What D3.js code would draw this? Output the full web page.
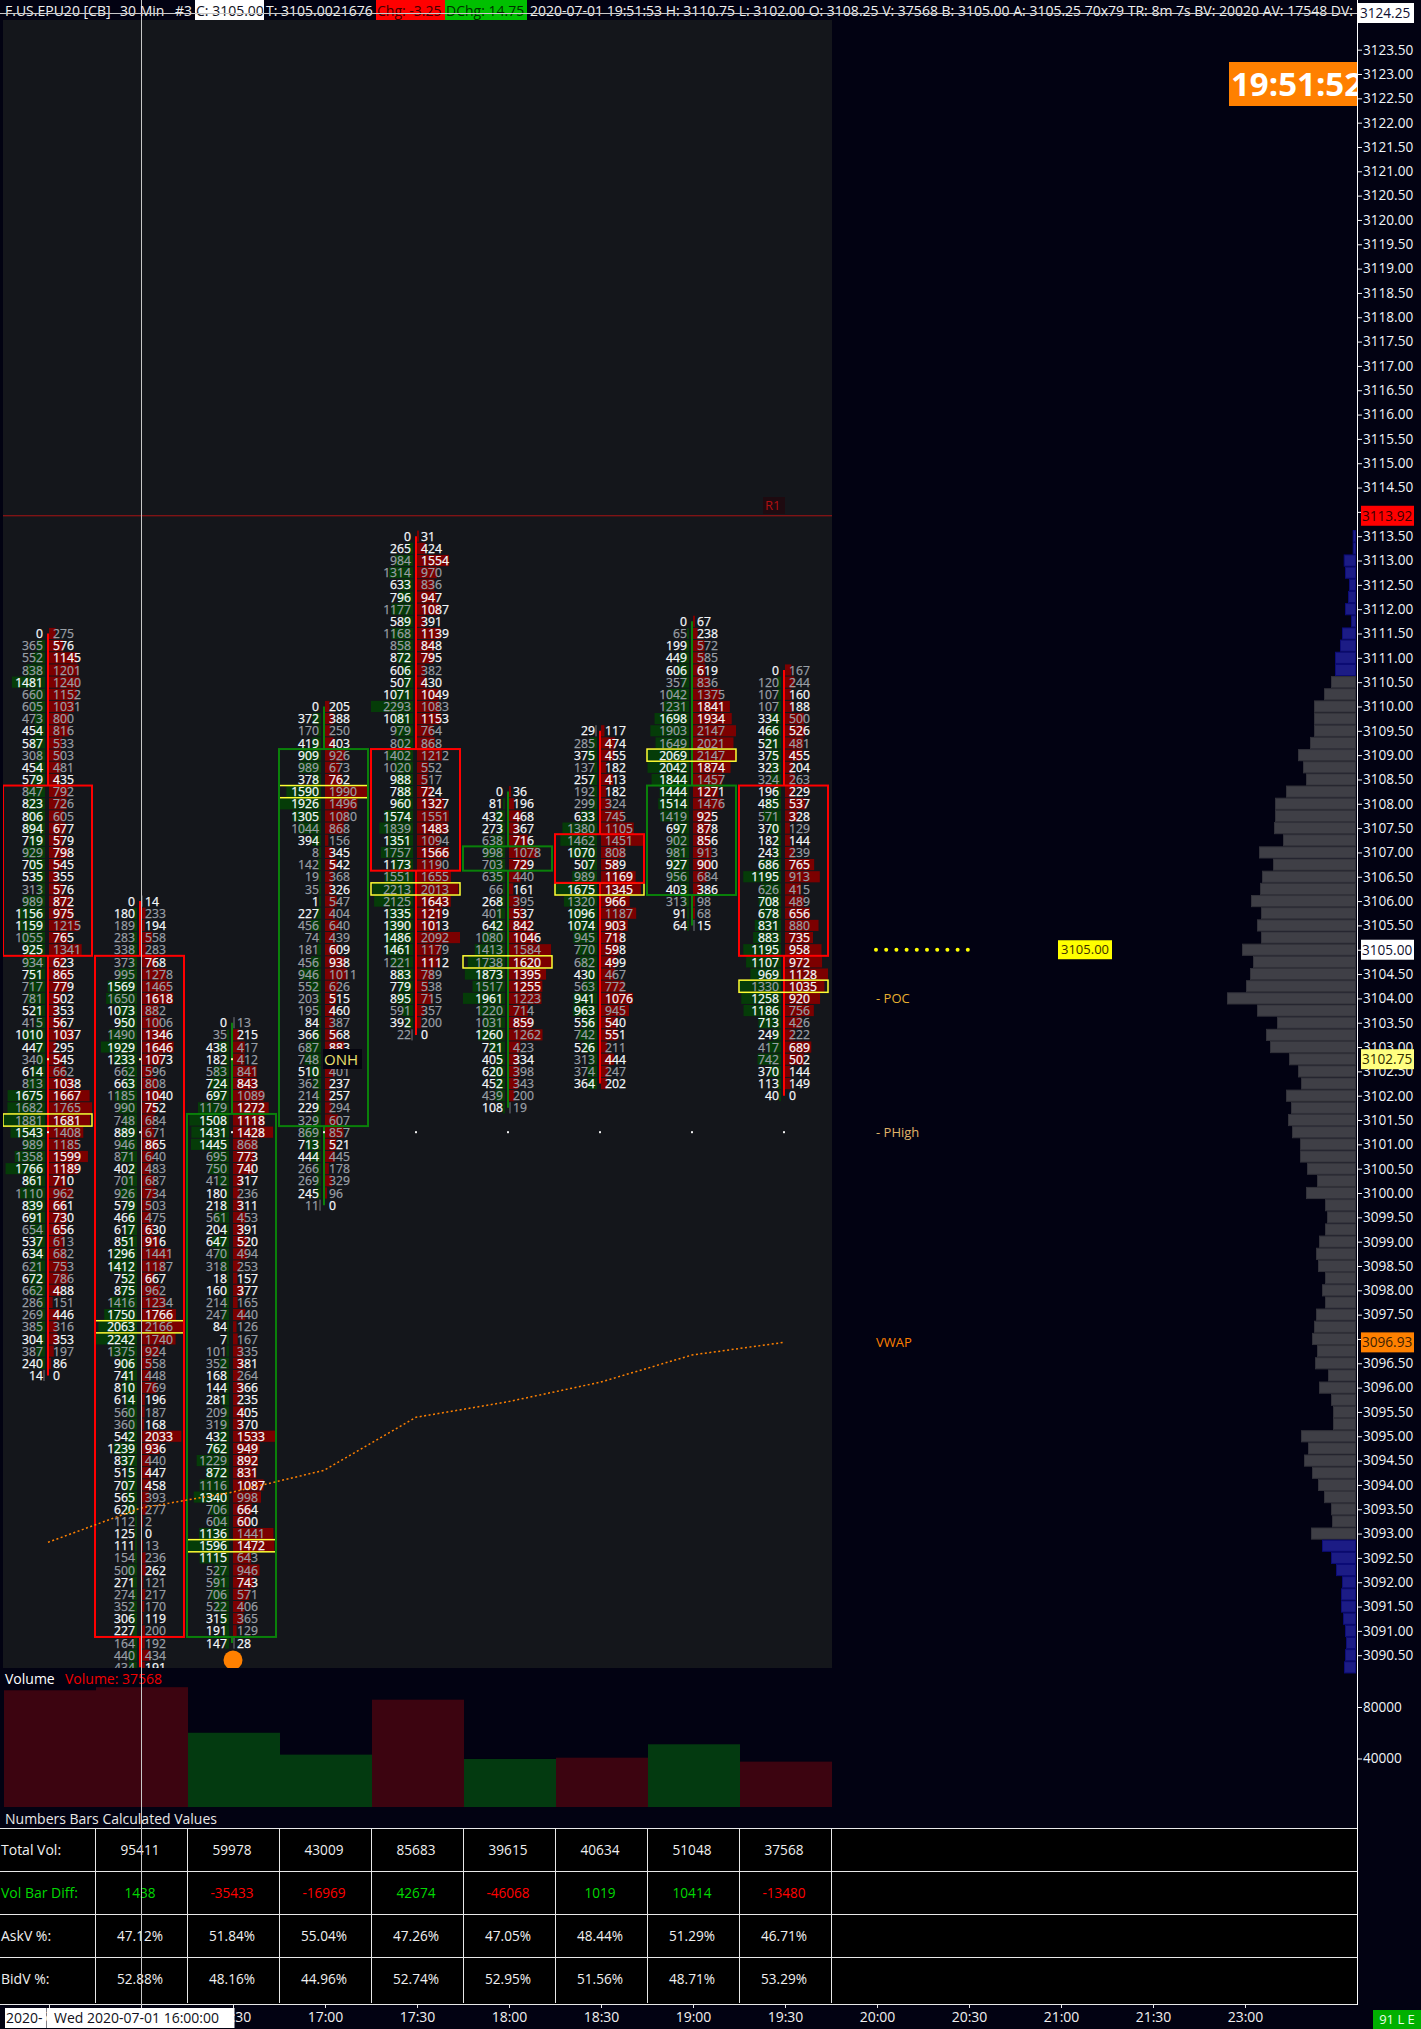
<!DOCTYPE html>
<html>
<head>
<meta charset="utf-8">
<script src="https://cdn.jsdelivr.net/npm/d3@7"></script>
<style>
  html, body { margin: 0; padding: 0; background: #020212; }
  svg { display: block; }
  text { font-family: "Open Sans", sans-serif; }
</style>
</head>
<body>
<div id="chart"></div>
<script>
// bar times (15:30 bar sits under the date box on the axis)
var barTimes = ["15:30", "16:00", "16:30", "17:00", "17:30", "18:00", "18:30", "19:00", "19:30"];
var axisTimes = barTimes.concat(["20:00", "20:30", "21:00", "21:30", "23:00"]);

// candle values, one per bar
var barHigh = [3111.5, 3106, 3103.5, 3110, 3113.5, 3108.25, 3109.5, 3111.75, 3110.75];
var bodyTop = [3108.25, 3104.75, 3101.5, 3109, 3109, 3107, 3107.25, 3108.25, 3108.25];
var bodyBottom = [3105, 3091, 3091, 3101.5, 3106.75, 3106.75, 3106.5, 3106.25, 3105];
var barIsUp = [false, false, true, true, false, true, false, true, false];

// footprint cells, top row to bottom row
var bid0 = [0,365,552,838,1481,660,605,473,454,587,308,454,579,847,823,806,894,719,929,705,535,313,989,1156,1159,1055,925,934,751,717,781,521,415,1010,447,340,614,813,1675,1682,1881,1543,989,1358,1766,861,1110,839,691,654,537,634,621,672,662,286,269,385,304,387,240,14];
var ask0 = [275,576,1145,1201,1240,1152,1031,800,816,533,503,481,435,792,726,605,677,579,798,545,355,576,872,975,1215,765,1341,623,865,779,502,353,567,1037,295,545,662,1038,1667,1765,1681,1408,1185,1599,1189,710,962,661,730,656,613,682,753,786,488,151,446,316,353,197,86,0];
var bid1 = [0,180,189,283,338,373,995,1569,1650,1073,950,1490,1929,1233,662,663,1185,990,748,889,946,871,402,701,926,579,466,617,851,1296,1412,752,875,1416,1750,2063,2242,1375,906,741,810,614,560,360,542,1239,837,515,707,565,620,112,125,111,154,500,271,274,352,306,227,164,440,434];
var ask1 = [14,233,194,558,283,768,1278,1465,1618,882,1006,1346,1646,1073,596,808,1040,752,684,671,865,640,483,687,734,503,475,630,916,1441,1187,667,962,1234,1766,2166,1740,924,558,448,769,196,187,168,2033,936,440,447,458,393,277,2,0,13,236,262,121,217,170,119,200,192,434,191];
var bid2 = [0,35,438,182,583,724,697,1179,1508,1431,1445,695,750,412,180,218,561,204,647,470,318,18,160,214,247,84,7,101,352,168,144,281,209,319,432,762,1229,872,1116,1340,706,604,1136,1596,1115,527,591,706,522,315,191,147];
var ask2 = [13,215,417,412,841,843,1089,1272,1118,1428,868,773,740,317,236,311,453,391,520,494,253,157,377,165,440,126,167,335,381,264,366,235,405,370,1533,949,892,831,1087,998,664,600,1441,1472,643,946,743,571,406,365,129,28];
var bid3 = [0,372,170,419,909,989,378,1590,1926,1305,1044,394,8,142,19,35,1,227,456,74,181,456,946,552,203,195,84,366,687,748,510,362,214,229,329,869,713,444,266,269,245,11];
var ask3 = [205,388,250,403,926,673,762,1990,1496,1080,868,156,345,542,368,326,547,404,640,439,609,938,1011,626,515,460,387,568,883,520,401,237,257,294,607,857,521,445,178,329,96,0];
var bid4 = [0,265,984,1314,633,796,1177,589,1168,858,872,606,507,1071,2293,1081,979,802,1402,1020,988,788,960,1574,1839,1351,1757,1173,1551,2213,2125,1335,1390,1486,1461,1221,883,779,895,591,392,22];
var ask4 = [31,424,1554,970,836,947,1087,391,1139,848,795,382,430,1049,1083,1153,764,868,1212,552,517,724,1327,1551,1483,1094,1566,1190,1655,2013,1643,1219,1013,2092,1179,1112,789,538,715,357,200,0];
var bid5 = [0,81,432,273,638,998,703,635,66,268,401,642,1080,1413,1738,1873,1517,1961,1220,1031,1260,721,405,620,452,439,108];
var ask5 = [36,196,468,367,716,1078,729,440,161,395,537,842,1046,1584,1620,1395,1255,1223,714,859,1262,423,334,398,343,200,19];
var bid6 = [29,285,375,137,257,192,299,633,1380,1462,1070,507,989,1675,1320,1096,1074,945,770,682,430,563,941,963,556,742,526,313,374,364];
var ask6 = [117,474,455,182,413,182,324,745,1105,1451,808,589,1169,1345,966,1187,903,718,598,499,467,772,1076,945,540,551,211,444,247,202];
var bid7 = [0,65,199,449,606,357,1042,1231,1698,1903,1649,2069,2042,1844,1444,1514,1419,697,902,981,927,956,403,313,91,64];
var ask7 = [67,238,572,585,619,836,1375,1841,1934,2147,2021,2147,1874,1457,1271,1476,925,878,856,913,900,684,386,98,68,15];
var bid8 = [0,120,107,107,334,466,521,375,323,324,196,485,571,370,182,243,686,1195,626,708,678,831,883,1195,1107,969,1330,1258,1186,713,249,417,742,370,113,40];
var ask8 = [167,244,160,188,500,526,481,455,204,263,229,537,328,129,144,239,765,913,415,489,656,880,735,958,972,1128,1035,920,756,426,222,689,502,144,149,0];
var bidCols = [bid0, bid1, bid2, bid3, bid4, bid5, bid6, bid7, bid8];
var askCols = [ask0, ask1, ask2, ask3, ask4, ask5, ask6, ask7, ask8];

// vwap at each bar
var vwap = [3092.82, 3093.52, 3093.85, 3094.3, 3095.39, 3095.71, 3096.11, 3096.67, 3096.93];

// volume pane, the first bar has no table column
var barVolume = [93000, 95411, 59978, 43009, 85683, 39615, 40634, 51048, 37568];

// table values
var tableTotal = ["95411", "59978", "43009", "85683", "39615", "40634", "51048", "37568"];
var tableDiff = [1438, -35433, -16969, 42674, -46068, 1019, 10414, -13480];
var tableAsk = ["47.12%", "51.84%", "55.04%", "47.26%", "47.05%", "48.44%", "51.29%", "46.71%"];
var tableBid = ["52.88%", "48.16%", "44.96%", "52.74%", "52.95%", "51.56%", "48.71%", "53.29%"];

// volume profile on the right, 3113.50 down to 3090.25 in 0.25 steps
var profileTop = 3113.5;
var profileVol = [230,230,1130,1000,600,700,1000,400,1300,1500,2000,2000,2400,3100,4100,4100,4100,4500,5700,5200,4900,6900,8000,8000,8100,7200,9600,8200,9300,9500,10400,9400,9800,9400,11300,10200,10500,10900,12800,9800,7800,8900,8500,6600,5700,5400,6900,6400,6700,6300,5500,5500,4800,3800,4900,3000,2800,3000,3600,3900,3700,3000,3300,3000,3900,4100,4300,3800,4000,2700,3600,2400,2200,2200,5400,4700,5100,4300,3700,3100,2400,2300,4400,3300,2400,1900,1300,1400,1400,1200,1000,900,1000,1100];
var valueAreaHigh = 3110.5;
var valueAreaLow = 3093;

var priceTicks = d3.range(3123.5, 3090, -0.5);
var volumeTicks = [80000, 40000];

var svgWidth = 1421;
var svgHeight = 2029;
var panelLeft = 3;
var panelRight = 832;
var panelTop = 20;
var panelBottom = 1668;
var axisX = 1357;
var rowHeight = 12.16;

var svg = d3.select("#chart").append("svg")
  .attr("width", svgWidth)
  .attr("height", svgHeight);

var x = d3.scalePoint().domain(axisTimes).range([48, 1244]);
var y = d3.scaleLinear().domain([3113.5, 3090.5]).range([536.2, 1655.2]);
var volY = d3.scaleLinear().domain([0, 80000]).range([1810, 1707]);
var profileX = d3.scaleLinear().domain([0, 12800]).range([0, 128]);

svg.append("rect").attr("width", svgWidth).attr("height", svgHeight).attr("fill", "#020212");

// price panel
svg.append("rect")
  .attr("x", panelLeft).attr("y", panelTop)
  .attr("width", panelRight - panelLeft).attr("height", panelBottom - panelTop)
  .attr("fill", "#14161b");

svg.append("clipPath").attr("id", "panelClip").append("rect")
  .attr("x", panelLeft).attr("y", panelTop)
  .attr("width", panelRight - panelLeft).attr("height", panelBottom - panelTop);

// R1 line
svg.append("line")
  .attr("x1", panelLeft).attr("x2", panelRight)
  .attr("y1", y(3113.92)).attr("y2", y(3113.92))
  .attr("stroke", "#a81414");
svg.append("rect").attr("x", 763).attr("y", 497).attr("width", 22).attr("height", 17).attr("fill", "#1e0a10");
svg.append("text").attr("x", 765).attr("y", 510).attr("font-size", 13).attr("fill", "#b01010").text("R1");

// volume profile
var profile = svg.append("g");
profileVol.forEach(function(v, i) {
  var price = profileTop - i * 0.25;
  var outside = price > valueAreaHigh || price < valueAreaLow;
  profile.append("rect")
    .attr("x", 1355.5 - profileX(v))
    .attr("y", y(price) - rowHeight / 2 + 0.5)
    .attr("width", profileX(v))
    .attr("height", rowHeight - 1)
    .attr("fill", outside ? "#1c1c85" : "#3f3f46")
    .attr("stroke", outside ? "#0c0c78" : "#32323a");
});

// footprint bars
var footprint = svg.append("g").attr("clip-path", "url(#panelClip)");

// the platform dims about half the numbers and no rule can be seen,
// so this just gives a similar mix
function dimCell(v) {
  return v > 0 && (v * 7) % 11 < 5;
}

barTimes.forEach(function(t, b) {
  var cx = x(t);
  var bids = bidCols[b];
  var asks = askCols[b];
  var bidLen = d3.scaleLinear().domain([0, d3.max(bids)]).range([0, 42]);
  var askLen = d3.scaleLinear().domain([0, d3.max(asks)]).range([0, 43]);
  var g = footprint.append("g");

  bids.forEach(function(bid, i) {
    var ask = asks[i];
    var price = barHigh[b] - i * 0.25;
    var rowY = y(price);
    var endRow = i === 0 || i === bids.length - 1;

    if (bid > 0) {
      var bw = Math.max(2, bidLen(bid));
      g.append("rect")
        .attr("x", cx - 3 - bw).attr("y", rowY - 5.6)
        .attr("width", bw).attr("height", rowHeight - 1)
        .attr("fill", endRow && bid < 30 ? "#44464c" : "#053c08");
    }
    if (ask > 0) {
      var aw = Math.max(2, askLen(ask));
      g.append("rect")
        .attr("x", cx + 1).attr("y", rowY - 5.6)
        .attr("width", aw).attr("height", rowHeight - 1)
        .attr("fill", endRow && ask < 30 ? "#44464c" : "#7c0000");
    }
    var bidColor = dimCell(bid) ? "#9a9fa6" : "#f4f7fa";
    var askColor = dimCell(ask) ? "#9a9fa6" : "#f4f7fa";
    g.append("text")
      .attr("x", cx - 5).attr("y", rowY + 4.6)
      .attr("text-anchor", "end").attr("font-size", 12.2)
      .attr("fill", bidColor).attr("stroke", bidColor).attr("stroke-width", 0.25)
      .text(bid);
    g.append("text")
      .attr("x", cx + 5).attr("y", rowY + 4.6)
      .attr("font-size", 12.2)
      .attr("fill", askColor).attr("stroke", askColor).attr("stroke-width", 0.25)
      .text(ask);
  });

  // wick and hollow body
  var color = barIsUp[b] ? "#0a800a" : "#ff0000";
  var low = barHigh[b] - (bids.length - 1) * 0.25;
  g.append("line")
    .attr("x1", cx).attr("x2", cx)
    .attr("y1", y(barHigh[b])).attr("y2", y(bodyTop[b]) - rowHeight / 2)
    .attr("stroke", color).attr("stroke-width", 2);
  g.append("line")
    .attr("x1", cx).attr("x2", cx)
    .attr("y1", y(bodyBottom[b]) + rowHeight / 2).attr("y2", y(low))
    .attr("stroke", color).attr("stroke-width", 2);

  // point of control is the row with the most volume
  var totals = bids.map(function(d, i) { return d + asks[i]; });
  var poc = d3.maxIndex(totals);
  var pocY = y(barHigh[b] - poc * 0.25);
  g.append("rect")
    .attr("x", cx - 45).attr("y", pocY - rowHeight / 2)
    .attr("width", 89).attr("height", rowHeight)
    .attr("fill", "none").attr("stroke", "#ffff33").attr("stroke-width", 1.5);

  g.append("rect")
    .attr("x", cx - 45).attr("y", y(bodyTop[b]) - rowHeight / 2)
    .attr("width", 89).attr("height", y(bodyBottom[b]) - y(bodyTop[b]) + rowHeight)
    .attr("fill", "none").attr("stroke", color).attr("stroke-width", 2);
});

// small dots for prior high and overnight high
barTimes.forEach(function(t, b) {
  svg.append("rect").attr("x", x(t) - 1).attr("y", y(3101.25) - 1)
    .attr("width", 2).attr("height", 2).attr("fill", "#f0f0f0");
  if (b < 3) {
    svg.append("rect").attr("x", x(t) - 1).attr("y", y(3102.75) - 1)
      .attr("width", 2).attr("height", 2).attr("fill", "#ffffa0");
  }
});

// ONH tag
svg.append("rect").attr("x", 323).attr("y", 1049).attr("width", 39).attr("height", 20).attr("fill", "#05050f");
svg.append("text").attr("x", 324).attr("y", y(3102.75) + 5.5)
  .attr("font-size", 15).attr("fill", "#ece070").text("ONH");

// vwap
var vwapLine = d3.line()
  .x(function(d, i) { return x(barTimes[i]); })
  .y(function(d) { return y(d); });
svg.append("path")
  .datum(vwap)
  .attr("d", vwapLine)
  .attr("fill", "none")
  .attr("stroke", "#ff8000")
  .attr("stroke-width", 1.5)
  .attr("stroke-dasharray", "2 2.5");

// last traded marker
footprint.append("circle")
  .attr("cx", x("16:30") + 1).attr("cy", y(3090.4))
  .attr("r", 9.5).attr("fill", "#ff8000");

// current price dots, right of the last bar
d3.range(10).forEach(function(i) {
  svg.append("circle")
    .attr("cx", x("20:00") + i * 10.2).attr("cy", y(3105))
    .attr("r", 2).attr("fill", "#ffff00");
});
svg.append("rect").attr("x", 1058).attr("y", y(3105) - 9.5).attr("width", 54).attr("height", 19).attr("fill", "#ffff00");
svg.append("text").attr("x", 1085).attr("y", y(3105) + 4.7)
  .attr("text-anchor", "middle").attr("font-size", 13).attr("fill", "#403000").text("3105.00");

// level labels
svg.append("text").attr("x", 876).attr("y", y(3104) + 5).attr("font-size", 13).attr("fill", "#e8b030").text("- POC");
svg.append("text").attr("x", 876).attr("y", y(3101.25) + 5).attr("font-size", 13).attr("fill", "#e0b468").text("- PHigh");
svg.append("text").attr("x", 876).attr("y", y(3096.93) + 5).attr("font-size", 13).attr("fill", "#ff8000").text("VWAP");

// price axis
var priceAxis = svg.append("g")
  .attr("transform", "translate(" + axisX + ",0)")
  .call(d3.axisRight(y).tickValues(priceTicks).tickFormat(d3.format(".2f")).tickSize(5).tickPadding(1));
priceAxis.select(".domain").remove();
priceAxis.selectAll("line").attr("stroke", "#f0f0f0");
priceAxis.selectAll("text").attr("fill", "#f0f4f8").attr("font-size", 13.6).attr("font-family", '"Open Sans", sans-serif');

// price tags on the axis
function priceTag(price, bg, fg) {
  svg.append("rect").attr("x", 1361).attr("y", y(price) - 10).attr("width", 53).attr("height", 20).attr("fill", bg);
  svg.append("text").attr("x", 1362).attr("y", y(price) + 5)
    .attr("font-size", 13.6).attr("fill", fg).text(price.toFixed(2));
}
priceTag(3113.92, "#ff0000", "#3a0000");
priceTag(3105, "#ffffff", "#101030");
priceTag(3102.75, "#ffff80", "#302c00");
priceTag(3096.93, "#ff8000", "#402000");

// clock
svg.append("rect").attr("x", 1229).attr("y", 62).attr("width", 128).attr("height", 44).attr("fill", "#ff8000");
svg.append("clipPath").attr("id", "clockClip").append("rect")
  .attr("x", 1229).attr("y", 62).attr("width", 128).attr("height", 44);
svg.append("text")
  .attr("clip-path", "url(#clockClip)")
  .attr("x", 1231).attr("y", 96)
  .attr("font-size", 33).attr("font-weight", 700).attr("fill", "#ffffff")
  .text("19:51:52");

// volume pane
svg.append("text").attr("x", 5).attr("y", 1684).attr("font-size", 14).attr("fill", "#ffffff").text("Volume");
svg.append("text").attr("x", 65).attr("y", 1684).attr("font-size", 14).attr("fill", "#f00000").text("Volume: 37568");

barVolume.forEach(function(v, b) {
  svg.append("rect")
    .attr("x", x(barTimes[b]) - 44).attr("y", volY(v))
    .attr("width", 92).attr("height", 1807 - volY(v))
    .attr("fill", barIsUp[b] ? "#033a10" : "#3c0410");
});

var volAxis = svg.append("g")
  .attr("transform", "translate(" + axisX + ",0)")
  .call(d3.axisRight(volY).tickValues(volumeTicks).tickFormat(d3.format("d")).tickSize(5).tickPadding(1));
volAxis.select(".domain").remove();
volAxis.selectAll("line").attr("stroke", "#f0f0f0");
volAxis.selectAll("text").attr("fill", "#f0f4f8").attr("font-size", 13.6).attr("font-family", '"Open Sans", sans-serif');

// table
svg.append("text").attr("x", 5).attr("y", 1824).attr("font-size", 14).attr("fill", "#e8e8e8").text("Numbers Bars Calculated Values");
svg.append("rect").attr("x", 0).attr("y", 1828).attr("width", axisX).attr("height", 176).attr("fill", "#000000");

var rowLines = [1828, 1871, 1914, 1957, 2004];
rowLines.forEach(function(ly) {
  svg.append("line").attr("x1", 0).attr("x2", axisX).attr("y1", ly + 0.5).attr("y2", ly + 0.5)
    .attr("stroke", "#e8e8e8");
});
barTimes.forEach(function(t) {
  svg.append("line").attr("x1", x(t) + 47.5).attr("x2", x(t) + 47.5).attr("y1", 1828).attr("y2", 2003)
    .attr("stroke", "#e8e8e8");
});

function tableLabel(label, rowY, color) {
  svg.append("text").attr("x", 1).attr("y", rowY).attr("font-size", 14).attr("fill", color).text(label);
}
function tableCell(col, val, rowY, color) {
  svg.append("text").attr("x", x(barTimes[col + 1])).attr("y", rowY)
    .attr("text-anchor", "middle").attr("font-size", 13.6).attr("fill", color).text(val);
}
tableLabel("Total Vol:", 1855, "#f0f0f0");
tableLabel("Vol Bar Diff:", 1898, "#00d800");
tableLabel("AskV %:", 1941, "#f0f0f0");
tableLabel("BidV %:", 1984, "#f0f0f0");
tableTotal.forEach(function(v, i) { tableCell(i, v, 1855, "#f0f0f0"); });
tableDiff.forEach(function(v, i) { tableCell(i, v, 1898, v < 0 ? "#ff0000" : "#00d800"); });
tableAsk.forEach(function(v, i) { tableCell(i, v, 1941, "#f0f0f0"); });
tableBid.forEach(function(v, i) { tableCell(i, v, 1984, "#f0f0f0"); });

// time axis
var timeAxis = svg.append("g")
  .attr("transform", "translate(1,2004)")
  .call(d3.axisBottom(x).tickSize(4).tickPadding(4));
timeAxis.select(".domain").remove();
timeAxis.selectAll("line").attr("stroke", "#e8e8e8");
timeAxis.selectAll("text").attr("fill", "#f0f0f0").attr("font-size", 14).attr("font-family", '"Open Sans", sans-serif');

// axis line and crosshair
svg.append("line").attr("x1", axisX + 0.5).attr("x2", axisX + 0.5).attr("y1", 0).attr("y2", 2005).attr("stroke", "#ffffff");
svg.append("line").attr("x1", 141.5).attr("x2", 141.5).attr("y1", 0).attr("y2", 2005).attr("stroke", "#c8c8c8");

// date boxes over the axis
svg.append("rect").attr("x", 5).attr("y", 2008).attr("width", 41).attr("height", 20).attr("fill", "#ffffff");
svg.append("text").attr("x", 6).attr("y", 2023).attr("font-size", 14).attr("fill", "#101020").text("2020-");
svg.append("rect").attr("x", 46.5).attr("y", 2008).attr("width", 188).attr("height", 20).attr("fill", "#ffffff");
svg.append("text").attr("x", 54).attr("y", 2023).attr("font-size", 14).attr("fill", "#101020").text("Wed 2020-07-01  16:00:00");

// connection status
svg.append("rect").attr("x", 1373).attr("y", 2010).attr("width", 48).attr("height", 19).attr("fill", "#00b000");
svg.append("text").attr("x", 1397).attr("y", 2024).attr("text-anchor", "middle").attr("font-size", 13).attr("fill", "#e8ffe8").text("91 L E");

// header line
var header = svg.append("g");
svg.append("clipPath").attr("id", "headClip").append("rect").attr("width", axisX).attr("height", 20);
header.attr("clip-path", "url(#headClip)");

function headerBox(bx, bw, bg) {
  header.append("rect").attr("x", bx).attr("y", 0).attr("width", bw).attr("height", 20).attr("fill", bg);
}
function headerText(label, tx, color) {
  header.append("text").attr("x", tx).attr("y", 16).attr("font-size", 14).attr("fill", color).text(label);
}
headerBox(195, 69, "#ffffff");
headerBox(376, 69, "#ff0000");
headerBox(445, 82, "#00c000");
headerText("F.US.EPU20 [CB]", 5, "#f0f0f0");
headerText("30 Min", 120, "#f0f0f0");
headerText("#3", 175, "#f0f0f0");
headerText("C: 3105.00", 196, "#101020");
headerText("T: 3105.0021676", 266, "#f0f0f0");
headerText("Chg: -3.25", 377, "#400000");
headerText("DChg: 14.75", 446, "#003000");
headerText("2020-07-01 19:51:53 H: 3110.75 L: 3102.00 O: 3108.25 V: 37568 B: 3105.00 A: 3105.25 70x79 TR: 8m 7s BV: 20020 AV: 17548 DV: 2472", 530, "#f0f0f0");

svg.append("line").attr("x1", 0).attr("x2", axisX).attr("y1", 13.5).attr("y2", 13.5).attr("stroke", "#c8c8c8");

// crosshair price tag
svg.append("rect").attr("x", 1358).attr("y", 3).attr("width", 56).attr("height", 20).attr("fill", "#ffffff");
svg.append("text").attr("x", 1360).attr("y", 18).attr("font-size", 13.6).attr("fill", "#101030").text("3124.25");
</script>
</body>
</html>
